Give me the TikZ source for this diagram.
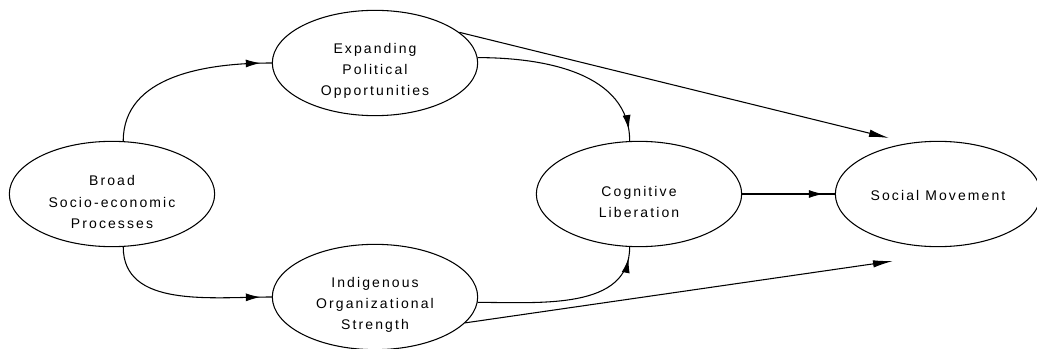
\documentclass[tikz,border=0pt]{standalone}
\usepackage{fontspec}
\setmainfont{Liberation Sans}[LetterSpace=15]
\usepackage{tikz}
\usetikzlibrary{arrows.meta, decorations.markings, shapes.geometric}

\tikzset{
    blob/.style={draw, ellipse, line width=0.8pt, minimum width=154pt, minimum height=79pt, inner sep=0pt},
    txt/.style={align=center, font=\fontsize{10.5}{16}\selectfont, yshift=-6pt},
    link/.style={line width=0.8pt},
    inset/.style={decoration={markings, mark=at position -8.5pt with {\arrow{Latex[length=11pt,width=6pt]}}}, postaction=decorate},
    tip/.style={-{Latex[length=15pt,width=5.5pt]}},
}

\begin{document}
\begin{tikzpicture}[x=0.75pt, y=-0.75pt]
        \useasboundingbox (0,0) rectangle (1037,349);

        \node[blob, label={[txt]center:Broad\\Socio-economic\\Processes}]      (broad) at (112,194) {};
        \node[blob, label={[txt]center:Expanding\\Political\\Opportunities}]   (expanding) at (375,63) {};
        \node[blob, label={[txt]center:Indigenous\\Organizational\\Strength}]  (indigenous) at (375,297) {};
        \node[blob, label={[txt]center:Cognitive\\Liberation}]                 (cognitive) at (639,194) {};
        \node[blob, label={[txt, yshift=5pt]center:Social Movement}]           (social) at (938,194) {};

        \coordinate (upperend) at (889,138);
        \coordinate (lowerend) at (893,261);

        \draw[link]
            (broad.78) edge[inset, out=90, in=180]  (expanding.west)
            (broad.-78) edge[inset, out=-90, in=180] (indigenous.west)
            (expanding.3) edge[inset, out=0, in=90]  (cognitive.100)
            (indigenous.-3) edge[inset, out=0, in=-90] (cognitive.-100)
            (cognitive.east) edge[inset] (social.west)
            (expanding.20) edge[tip] (upperend)
            (indigenous.-16) edge[tip] (lowerend)
            ;
\end{tikzpicture}
\end{document}
